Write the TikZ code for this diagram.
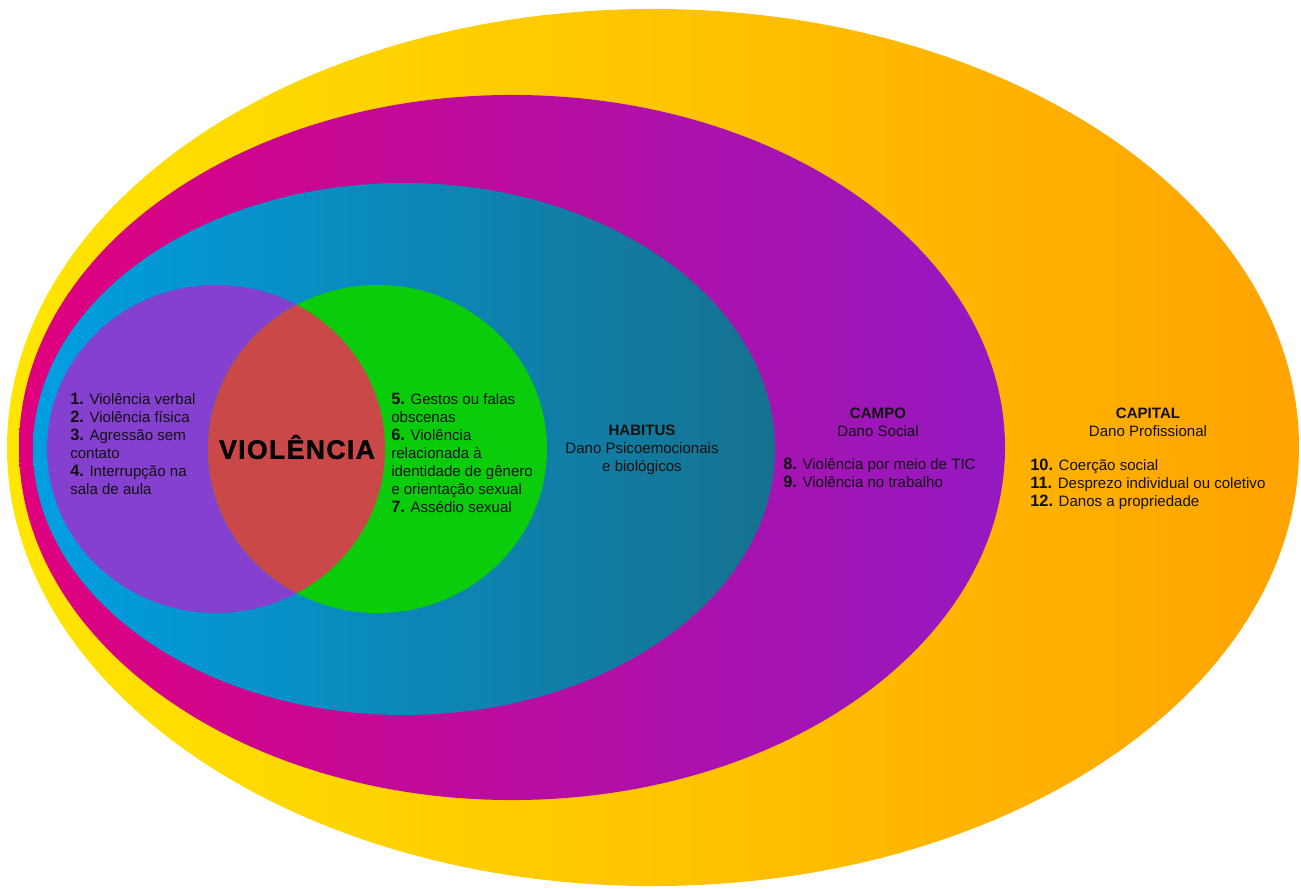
\documentclass[tikz,border=0pt]{standalone}
\usepackage{fontspec}
\setmainfont{Liberation Sans}
\newfontfamily\titlefont[LetterSpace=5, BoldFeatures={FakeBold=1.2}]{Liberation Sans}
\definecolor{ylwL}{HTML}{FFE600}
\definecolor{ylwR}{HTML}{FFA300}
\definecolor{magL}{HTML}{E0007E}
\definecolor{magR}{HTML}{9419C2}
\definecolor{bluL}{HTML}{009FE2}
\definecolor{bluR}{HTML}{16718F}
\definecolor{purp}{HTML}{8640D0}
\definecolor{grn}{HTML}{0ACC0A}
\definecolor{redx}{HTML}{CB4848}
\definecolor{txt}{HTML}{111111}
\newcommand{\nb}[1]{{\fontsize{12.3pt}{13.5pt}\selectfont\textbf{#1}}}
\tikzset{
  listtext/.style={anchor=base west, align=left, text=txt, inner sep=0pt,
    font=\fontsize{11.3pt}{13.5pt}\selectfont},
  centertext/.style={anchor=base, align=center, text=txt, inner sep=0pt,
    font=\fontsize{11.3pt}{13.5pt}\selectfont}
}
\begin{document}
\begin{tikzpicture}[x=0.75pt,y=-0.75pt]
\useasboundingbox (0,0) rectangle (1301,888);
% outer ellipses
\shade[left color=ylwL, right color=ylwR] (653,447.5) ellipse [x radius=484.5pt, y radius=328.9pt];
\shade[left color=magL, right color=magR] (512,447.5) ellipse [x radius=369.75pt, y radius=264.4pt];
\shade[left color=bluL, right color=bluR] (404,449) ellipse [x radius=278.25pt, y radius=199.5pt];
% venn circles
\fill[purp] (216,449) ellipse [x radius=126.75pt, y radius=123pt];
\fill[grn] (377.5,449) ellipse [x radius=127.1pt, y radius=123pt];
\begin{scope}
  \clip (216,449) ellipse [x radius=126.75pt, y radius=123pt];
  \fill[redx] (377.5,449) ellipse [x radius=127.1pt, y radius=123pt];
\end{scope}
% texts (base anchor = baseline of the last line)
\node[anchor=center, text=black, inner sep=0pt, font=\titlefont\bfseries\fontsize{20pt}{22pt}\selectfont] (viol) at (297,447) {VIOLÊNCIA};
\node[listtext] (left) at (70,494) {\nb{1.} Violência verbal\\\nb{2.} Violência física\\\nb{3.} Agressão sem\\contato\\\nb{4.} Interrupção na\\sala de aula};
\node[listtext] (right) at (391,512) {\nb{5.} Gestos ou falas\\obscenas\\\nb{6.} Violência\\relacionada à\\identidade de gênero\\e orientação sexual\\\nb{7.} Assédio sexual};
\node[centertext] (habitus) at (642,471) {\textbf{HABITUS}\\Dano Psicoemocionais\\e biológicos};
\node[centertext] (campo) at (878,436) {\textbf{CAMPO}\\Dano Social};
\node[listtext] (campol) at (783,487) {\nb{8.} Violência por meio de TIC\\\nb{9.} Violência no trabalho};
\node[centertext] (capital) at (1148,436) {\textbf{CAPITAL}\\Dano Profissional};
\node[listtext] (capl) at (1030,506) {\nb{10.} Coerção social\\\nb{11.} Desprezo individual ou coletivo\\\nb{12.} Danos a propriedade};
\end{tikzpicture}
\end{document}
